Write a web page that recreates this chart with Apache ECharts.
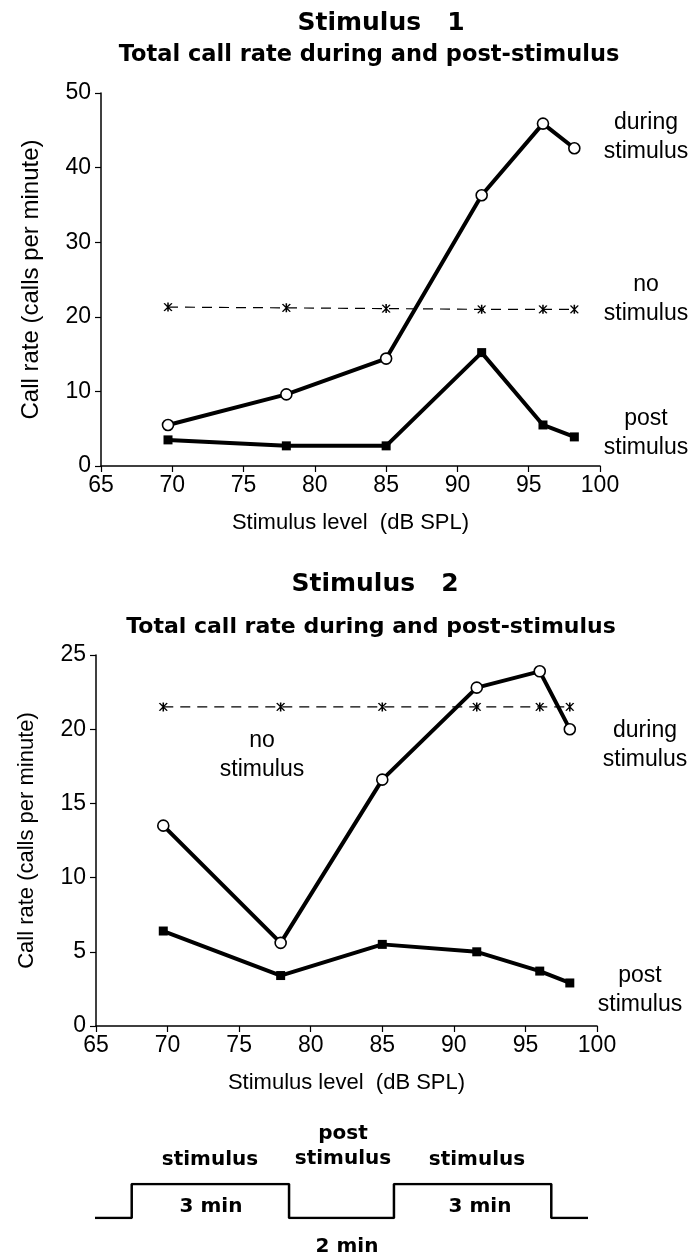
<!DOCTYPE html>
<html>
<head>
<meta charset="utf-8">
<script src="https://cdn.jsdelivr.net/npm/echarts@6/dist/echarts.min.js"></script>
<style>
  html, body { margin: 0; padding: 0; background: #fff; }
  #main { width: 696px; height: 1257px; }
</style>
</head>
<body>
<div id="main"></div>
<script>
// stimulus level (dB SPL) of each trial
const levels1 = [69.7, 78, 85, 91.7, 96, 98.2];
const levels2 = [69.7, 77.9, 85, 91.6, 96, 98.1];
// call rate, calls per minute
const during1 = [5.5, 9.6, 14.4, 36.3, 45.9, 42.6];
const post1 = [3.5, 2.7, 2.7, 15.2, 5.5, 3.9];
const noStim1 = [21.3, 21.2, 21.1, 21.0, 21.0, 21.0];
const during2 = [13.5, 5.6, 16.6, 22.8, 23.9, 20.0];
const post2 = [6.4, 3.4, 5.5, 5.0, 3.7, 2.9];
const noStim2 = [21.5, 21.5, 21.5, 21.5, 21.5, 21.5];
// protocol sketch: time (min) and on/off level
const schemeTime = [-0.7, 0, 0, 3, 3, 5, 5, 8, 8, 8.7];
const schemeLevel = [0, 0, 1, 1, 0, 0, 1, 1, 0, 0];

const font = 'Liberation Sans, Arial, Helvetica, sans-serif';
const boldFont = 'DejaVu Sans, Liberation Sans, sans-serif';
// asterisk marker
const star = 'path://M45 0L55 0L55 100L45 100Z M29.3 4.2L79.3 90.8L70.7 95.8L20.7 9.2Z M70.7 4.2L79.3 9.2L29.3 95.8L20.7 90.8Z';

const pairs = (xs, ys) => xs.map((x, i) => [x, ys[i]]);

const chart = echarts.init(document.getElementById('main'));

function xAxisOf(gi) {
  return {
    gridIndex: gi, type: 'value', min: 65, max: 100, interval: 5,
    name: 'Stimulus level  (dB SPL)', nameLocation: 'middle', nameGap: 46,
    nameTextStyle: { color: '#000', fontSize: 22, fontFamily: font },
    axisLine: { lineStyle: { color: '#000', width: 1.5 } },
    axisTick: { length: 6, lineStyle: { color: '#000', width: 1.2 } },
    axisLabel: { color: '#000', fontSize: 23, fontFamily: font, margin: 8 },
    splitLine: { show: false }
  };
}
function yAxisOf(gi, max, step, nameSize) {
  return {
    gridIndex: gi, type: 'value', min: 0, max: max, interval: step,
    name: 'Call rate (calls per minute)', nameLocation: 'middle', nameGap: 58,
    nameTextStyle: { color: '#000', fontSize: nameSize, fontFamily: font },
    axisLine: { show: true, lineStyle: { color: '#000', width: 1.5 } },
    axisTick: { show: true, length: 6, lineStyle: { color: '#000', width: 1.2 } },
    axisLabel: { color: '#000', fontSize: 23, fontFamily: font, margin: 10 },
    splitLine: { show: false }
  };
}

function duringSeries(idx, xs, ys) {
  return {
    type: 'line', xAxisIndex: idx, yAxisIndex: idx, data: pairs(xs, ys), z: 4,
    symbol: 'circle', symbolSize: 11,
    lineStyle: { color: '#000', width: 4 },
    itemStyle: { color: '#fff', borderColor: '#000', borderWidth: 1.6 }
  };
}
function postSeries(idx, xs, ys) {
  return {
    type: 'line', xAxisIndex: idx, yAxisIndex: idx, data: pairs(xs, ys), z: 3,
    symbol: 'rect', symbolSize: 9,
    lineStyle: { color: '#000', width: 4 },
    itemStyle: { color: '#000' }
  };
}
function noStimSeries(idx, xs, ys) {
  return {
    type: 'line', xAxisIndex: idx, yAxisIndex: idx, data: pairs(xs, ys), z: 2,
    symbol: star, symbolSize: 9,
    lineStyle: { color: '#000', width: 1.2, type: [10, 7] },
    itemStyle: { color: '#000' }
  };
}

function txt(x, y, s, size, bold) {
  return {
    type: 'text', x: x, y: y,
    style: {
      text: s, fill: '#000', fontSize: size, fontFamily: bold ? boldFont : font,
      fontWeight: bold ? 'bold' : 'normal', align: 'center', verticalAlign: 'middle',
      lineHeight: Math.round(size * 1.25)
    }
  };
}

chart.setOption({
  animation: false,
  backgroundColor: '#fff',
  grid: [
    { left: 101, top: 93, width: 499, height: 373 },
    { left: 96, top: 655, width: 501, height: 371 },
    { left: 95, top: 1184, width: 493, height: 34 }
  ],
  xAxis: [
    xAxisOf(0),
    xAxisOf(1),
    { gridIndex: 2, type: 'value', min: -0.7, max: 8.7, show: false }
  ],
  yAxis: [
    yAxisOf(0, 50, 10, 24),
    yAxisOf(1, 25, 5, 22),
    { gridIndex: 2, type: 'value', min: 0, max: 1, show: false }
  ],
  series: [
    noStimSeries(0, levels1, noStim1),
    postSeries(0, levels1, post1),
    duringSeries(0, levels1, during1),
    noStimSeries(1, levels2, noStim2),
    postSeries(1, levels2, post2),
    duringSeries(1, levels2, during2),
    {
      type: 'line', xAxisIndex: 2, yAxisIndex: 2, data: pairs(schemeTime, schemeLevel),
      symbol: 'none', lineStyle: { color: '#000', width: 2.5 }
    }
  ],
  graphic: [
    txt(381, 23, 'Stimulus   1', 25, true),
    txt(369, 55, 'Total call rate during and post-stimulus', 22.5, true),
    txt(646, 137, 'during\nstimulus', 23),
    txt(646, 299, 'no\nstimulus', 23),
    txt(646, 433, 'post\nstimulus', 23),
    txt(375, 584, 'Stimulus   2', 25, true),
    txt(371, 627, 'Total call rate during and post-stimulus', 22, true),
    txt(262, 755, 'no\nstimulus', 23),
    txt(645, 745, 'during\nstimulus', 23),
    txt(640, 990, 'post\nstimulus', 23),
    txt(210, 1160, 'stimulus', 20, true),
    txt(343, 1146, 'post\nstimulus', 20, true),
    txt(477, 1160, 'stimulus', 20, true),
    txt(211, 1207, '3 min', 20, true),
    txt(480, 1207, '3 min', 20, true),
    txt(347, 1247, '2 min', 20, true)
  ]
});
</script>
</body>
</html>
